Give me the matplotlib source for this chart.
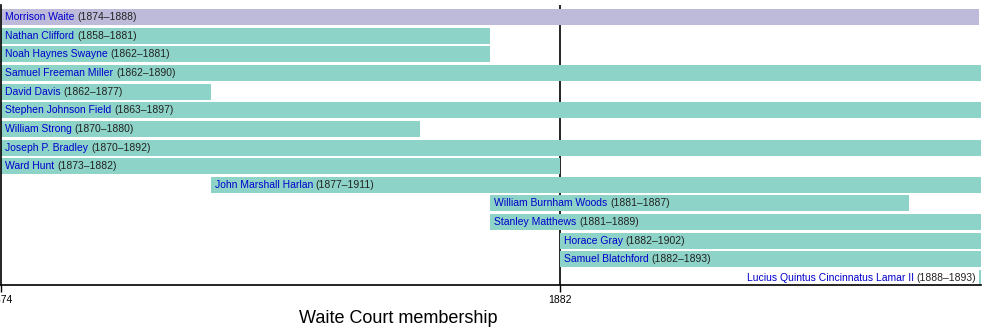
import matplotlib
matplotlib.use("Agg")
import matplotlib.pyplot as plt

plt.rcParams['font.family'] = ['Liberation Sans', 'DejaVu Sans']

# Członkowie sądu: imię, lata w sądzie (etykieta), początek i koniec słupka
names = [
    "Morrison Waite", "Nathan Clifford", "Noah Haynes Swayne",
    "Samuel Freeman Miller", "David Davis", "Stephen Johnson Field",
    "William Strong", "Joseph P. Bradley", "Ward Hunt",
    "John Marshall Harlan", "William Burnham Woods", "Stanley Matthews",
    "Horace Gray", "Samuel Blatchford", "Lucius Quintus Cincinnatus Lamar II",
]
tenures = [
    "(1874–1888)", "(1858–1881)", "(1862–1881)", "(1862–1890)", "(1862–1877)",
    "(1863–1897)", "(1870–1880)", "(1870–1892)", "(1873–1882)", "(1877–1911)",
    "(1881–1887)", "(1881–1889)", "(1882–1902)", "(1882–1893)", "(1888–1893)",
]
starts = [1874, 1874, 1874, 1874, 1874, 1874, 1874, 1874, 1874,
          1877, 1881, 1881, 1882, 1882, 1888]
ends = [1888, 1881, 1881, 1890, 1877, 1897, 1880, 1892, 1882,
        1911, 1887, 1889, 1902, 1893, 1893]
is_chief = [True] + [False] * 14

period = (1874, 1888.03)
ticks = [1874, 1882]
fs = 7.5

fig = plt.figure(figsize=(10, 3.35), dpi=100)
ax = fig.add_axes([0.001, 1 - 285 / 335, 0.980, 280 / 335])

ax.set_xlim(*period)
ax.set_ylim(14.38, -0.65)

for i, (n, t, s, e, c) in enumerate(zip(names, tenures, starts, ends, is_chief)):
    color = "#bebada" if c else "#8dd3c7"
    ax.barh(i, e - s, left=s, height=0.86, color=color, zorder=2)
    if s >= period[1] - 0.5:
        # słupek zaczyna się przy prawej krawędzi – podpis po lewej stronie
        yt = ax.annotate(t, xy=(s, i), xytext=(-2, 0), textcoords="offset points",
                         ha="right", va="center", fontsize=fs, color="#222222",
                         zorder=3)
        ax.annotate(n, xy=(0, 0.5), xycoords=yt, xytext=(-2, 0),
                    textcoords="offset points", ha="right", va="center",
                    fontsize=fs, color="#0000cc", zorder=3)
    else:
        nt = ax.annotate(n, xy=(s, i), xytext=(3, 0), textcoords="offset points",
                         ha="left", va="center", fontsize=fs, color="#0000cc",
                         zorder=3)
        ax.annotate(t, xy=(1, 0.5), xycoords=nt, xytext=(2, 0),
                    textcoords="offset points", ha="left", va="center",
                    fontsize=fs, color="#222222", zorder=3)

ax.axvline(1882, color="black", lw=1.2, zorder=1)

ax.spines[["top", "right"]].set_visible(False)
ax.spines[["left", "bottom"]].set_linewidth(1.2)
ax.set_yticks([])
ax.set_xticks(ticks)
ax.tick_params(axis="x", length=5, width=1, labelsize=fs, pad=2)

fig.text(0.398, 0.048, "Waite Court membership", ha="center", va="center",
         fontsize=13)

fig.savefig("out.png", dpi=100)
